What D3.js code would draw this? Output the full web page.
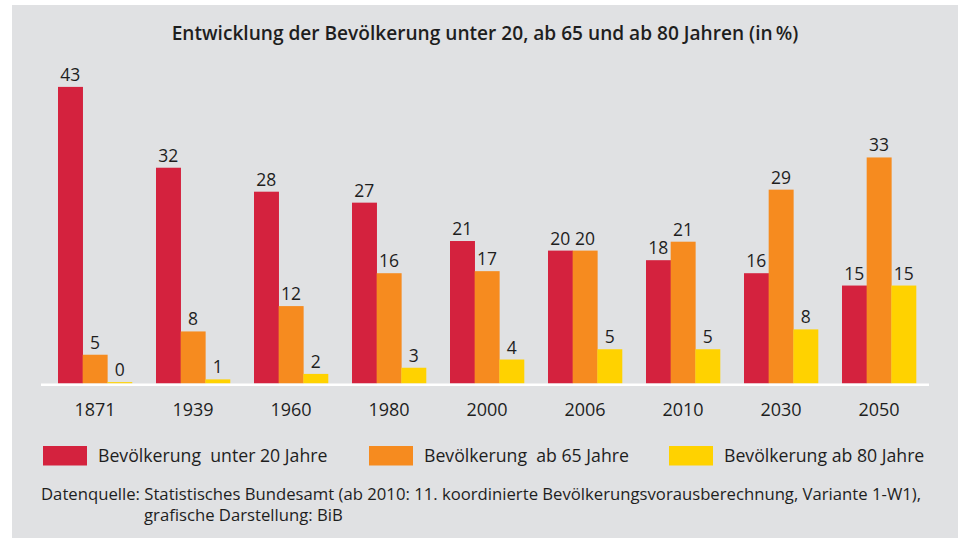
<!DOCTYPE html>
<html>
<head>
<meta charset="utf-8">
<script src="https://cdn.jsdelivr.net/npm/d3@7"></script>
<style>
  body { margin: 0; background: #fff; }
  svg text { font-family: "Open Sans", Lato, sans-serif; fill: #1e1e1e; }
</style>
</head>
<body>
<script>
// data
var years = ["1871", "1939", "1960", "1980", "2000", "2006", "2010", "2030", "2050"];
var seriesNames = ["Bevölkerung  unter 20 Jahre", "Bevölkerung  ab 65 Jahre", "Bevölkerung ab 80 Jahre"];
// bar heights (percent)
var under20 = [43.3, 31.5, 28.0, 26.4, 20.8, 19.4, 18.0, 16.1, 14.3];
var over65  = [4.2, 7.6, 11.3, 16.1, 16.4, 19.4, 20.7, 28.3, 33.0];
var over80  = [0.2, 0.6, 1.4, 2.3, 3.5, 5.0, 5.0, 7.9, 14.3];
// printed labels
var labels20 = [43, 32, 28, 27, 21, 20, 18, 16, 15];
var labels65 = [5, 8, 12, 16, 17, 20, 21, 29, 33];
var labels80 = [0, 1, 2, 3, 4, 5, 5, 8, 15];

var colors = ["#d4223e", "#f68b1f", "#ffd200"];

var width = 958, height = 538;

var svg = d3.select("body").append("svg")
    .attr("width", width)
    .attr("height", height);

// grey panel
svg.append("rect")
    .attr("x", 12).attr("y", 5)
    .attr("width", width - 12).attr("height", height - 5)
    .attr("fill", "#e0e1e3");

svg.append("text")
    .attr("x", 485).attr("y", 40)
    .attr("text-anchor", "middle")
    .style("font-size", "19.1px")
    .style("font-weight", "600")
    .text("Entwicklung der Bevölkerung unter 20, ab 65 und ab 80 Jahren (in\u2009%)");

// scales
var baseY = 383.5;
var x0 = d3.scaleBand()
    .domain(years)
    .range([58, 916])
    .paddingInner(0.245)
    .paddingOuter(0);

var x1 = d3.scaleBand()
    .domain([0, 1, 2])
    .range([0, x0.bandwidth()]);

var y = d3.scaleLinear()
    .domain([0, 45])
    .range([baseY, baseY - 45 * 6.85]);

var series = [under20, over65, over80];
var seriesLabels = [labels20, labels65, labels80];

var groups = svg.selectAll(".group")
    .data(years)
    .enter()
    .append("g")
    .attr("class", "group")
    .attr("transform", function(d){ return "translate(" + x0(d) + ",0)"; });

groups.selectAll("rect")
    .data(function(d, i){
        return series.map(function(s, j){ return {s: j, v: s[i], label: seriesLabels[j][i]}; });
    })
    .enter()
    .append("rect")
    .attr("x", function(d){ return x1(d.s); })
    .attr("width", x1.bandwidth() + 0.3)
    .attr("y", function(d){ return y(d.v); })
    .attr("height", function(d){ return baseY - y(d.v); })
    .attr("fill", function(d){ return colors[d.s]; });

groups.selectAll(".val")
    .data(function(d, i){
        return series.map(function(s, j){ return {s: j, v: s[i], label: seriesLabels[j][i]}; });
    })
    .enter()
    .append("text")
    .attr("class", "val")
    .attr("x", function(d){ return x1(d.s) + x1.bandwidth() / 2; })
    .attr("y", function(d){ return y(d.v) - 6; })
    .attr("text-anchor", "middle")
    .style("font-size", "17.5px")
    .text(function(d){ return d.label; });

// baseline
svg.append("line")
    .attr("x1", 41).attr("x2", 929)
    .attr("y1", baseY + 1.3).attr("y2", baseY + 1.3)
    .attr("stroke", "#fff")
    .attr("stroke-width", 2.5);

// category axis
var xAxis = svg.append("g")
    .attr("transform", "translate(0," + baseY + ")")
    .call(d3.axisBottom(x0).tickSize(0).tickPadding(20));
xAxis.select(".domain").remove();
xAxis.selectAll("text")
    .style("font-size", "18px")
    .style("font-family", "'Open Sans', sans-serif")
    .attr("fill", "#1e1e1e");

// legend
var legendX = [43, 369, 669];
var legend = svg.selectAll(".legend")
    .data(seriesNames)
    .enter()
    .append("g")
    .attr("class", "legend")
    .attr("transform", function(d, i){ return "translate(" + legendX[i] + ",446)"; });

legend.append("rect")
    .attr("width", 44).attr("height", 19.5)
    .attr("fill", function(d, i){ return colors[i]; });

legend.append("text")
    .attr("x", 55).attr("y", 16)
    .attr("xml:space", "preserve")
    .style("white-space", "pre")
    .style("font-size", "17.7px")
    .text(function(d){ return d; });

// source
svg.append("text")
    .attr("x", 41).attr("y", 500)
    .style("font-size", "16.7px")
    .text("Datenquelle: Statistisches Bundesamt (ab 2010: 11. koordinierte Bevölkerungsvorausberechnung, Variante 1-W1),");
svg.append("text")
    .attr("x", 144).attr("y", 521)
    .style("font-size", "16.7px")
    .text("grafische Darstellung: BiB");
</script>
</body>
</html>
